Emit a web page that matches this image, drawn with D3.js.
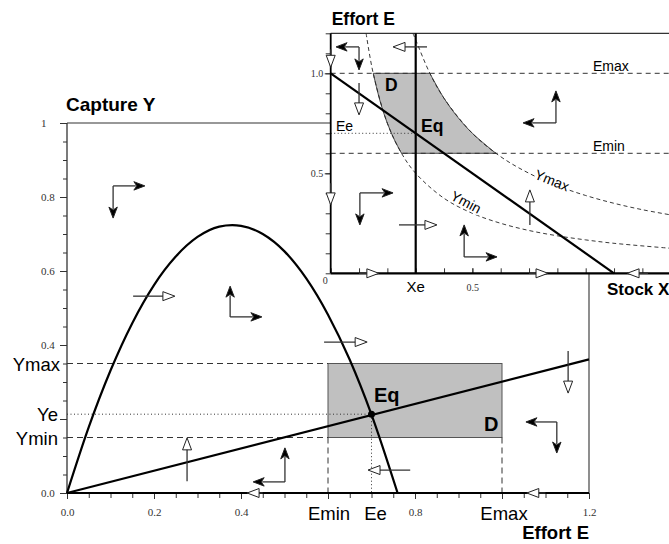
<!DOCTYPE html>
<html>
<head>
<meta charset="utf-8">
<script src="https://cdn.jsdelivr.net/npm/d3@7"></script>
<style>
  body { margin: 0; background: #fff; }
  svg text { font-family: "Liberation Sans", Arial, sans-serif; }
  .tick text { font-family: "Liberation Serif", "Times New Roman", serif; fill: #333; }
</style>
</head>
<body>
<div id="chart"></div>
<script>
// main diagram: capture Y against effort E
var mainYTicks = [0, 0.2, 0.4, 0.6, 0.8, 1];
var mainYTickLabels = ["0.0", "", "0.4", "0.6", "0.8", "1"];
var mainXTicks = [0, 0.2, 0.4, 0.6, 0.8, 1.0, 1.2];
var mainXTickLabels = ["0.0", "0.2", "0.4", "", "0.8", "", "1.2"];
// production curve (E, Y)
var captureCurve = [[0, 0], [0.05, 0.178], [0.1, 0.331], [0.15, 0.459], [0.2, 0.562],
  [0.25, 0.639], [0.3, 0.692], [0.35, 0.72], [0.38, 0.724], [0.4, 0.722], [0.45, 0.7],
  [0.5, 0.653], [0.55, 0.58], [0.6, 0.482], [0.65, 0.36], [0.7, 0.212], [0.76, 0]];
var captureLine = [[0, 0], [1.2, 0.361]];
var Emin = 0.6, Emax = 1.0, Ee = 0.7;
var Ymin = 0.15, Ymax = 0.35, Ye = 0.213;
// arrows: x1, y1, x2, y2, head ("f" filled, "o" open)
var mainArrows = [
  [0.106, 0.830, 0.179, 0.830, "f"], [0.106, 0.830, 0.106, 0.743, "f"],
  [0.152, 0.532, 0.248, 0.532, "o"],
  [0.375, 0.476, 0.375, 0.559, "f"], [0.375, 0.476, 0.448, 0.476, "f"],
  [0.591, 0.408, 0.690, 0.408, "o"],
  [1.152, 0.384, 1.152, 0.270, "o"],
  [1.126, 0.192, 1.055, 0.192, "f"], [1.126, 0.192, 1.126, 0.108, "f"],
  [0.789, 0.062, 0.692, 0.062, "o"],
  [1.10, 0, 1.057, 0, "o"],
  [0.45, 0, 0.414, 0, "o"],
  [0.276, 0.032, 0.276, 0.149, "o"],
  [0.501, 0.030, 0.428, 0.030, "f"], [0.501, 0.030, 0.501, 0.122, "f"]
];

// inset: effort E against stock X
var insetYTicks = [0.5, 1.0];
var insetYTickLabels = ["0.5", "1.0"];
var insetXTicks = [0.5];
var insetXTickLabels = ["0.5"];
var Xe = 0.3;
var effortLine = [[0, 1.0], [1.0, 0]];
var ymaxCurve = [[0.29, 1.2], [0.3, 1.167], [0.35, 1.0], [0.4, 0.875], [0.5, 0.7], [0.6, 0.583],
  [0.7, 0.5], [0.8, 0.4375], [0.9, 0.389], [1.0, 0.35], [1.1, 0.318], [1.2, 0.292]];
var yminCurve = [[0.125, 1.2], [0.15, 1.0], [0.2, 0.75], [0.25, 0.6], [0.3, 0.5], [0.4, 0.375],
  [0.5, 0.3], [0.6, 0.25], [0.7, 0.214], [0.8, 0.1875], [0.9, 0.167], [1.0, 0.15], [1.2, 0.125]];
var regionLeft = [[0.15, 1.0], [0.175, 0.857], [0.2, 0.75], [0.225, 0.667], [0.25, 0.6]];
var regionRight = [[0.583, 0.6], [0.5, 0.7], [0.45, 0.778], [0.4, 0.875], [0.35, 1.0]];
var insetArrows = [
  [0.100, 1.132, 0.019, 1.132, "f"], [0.100, 1.132, 0.100, 1.017, "f"],
  [0.340, 1.132, 0.220, 1.132, "o"],
  [0, 1.12, 0, 1.03, "o"],
  [0.1, 0.952, 0.1, 0.792, "o"],
  [0.795, 0.752, 0.795, 0.912, "f"], [0.795, 0.752, 0.679, 0.752, "f"],
  [0, 0.45, 0, 0.342, "o"],
  [0.103, 0.402, 0.22, 0.402, "f"], [0.103, 0.402, 0.103, 0.242, "f"],
  [0.241, 0.242, 0.375, 0.242, "o"],
  [0.471, 0.082, 0.471, 0.242, "f"], [0.471, 0.082, 0.587, 0.082, "f"],
  [0.703, 0.242, 0.703, 0.417, "o"],
  [0.1, 0, 0.170, 0, "o"],
  [0.7, 0, 0.767, 0, "o"],
  [1.12, 0, 1.046, 0, "o"]
];

var W = 669, H = 544;
var svg = d3.select("#chart").append("svg").attr("width", W).attr("height", H);

function drawArrows(g, sx, sy, list) {
  list.forEach(function (a) {
    var ax = sx(a[0]), ay = sy(a[1]), bx = sx(a[2]), by = sy(a[3]);
    var len = Math.hypot(bx - ax, by - ay), ux = (bx - ax) / len, uy = (by - ay) / len;
    var nx = -uy, ny = ux;
    var h = a[4] == "f" ? 11 : 12, w = a[4] == "f" ? 4.2 : 4.5;
    var cx = bx - ux * h, cy = by - uy * h;
    g.append("line").attr("x1", ax).attr("y1", ay).attr("x2", cx + ux * 2).attr("y2", cy + uy * 2)
      .attr("stroke", "#333").attr("stroke-width", 1.3);
    var pts = a[4] == "f"
      ? [[bx, by], [cx + nx * w, cy + ny * w], [cx + ux * 3, cy + uy * 3], [cx - nx * w, cy - ny * w]]
      : [[bx, by], [cx + nx * w, cy + ny * w], [cx - nx * w, cy - ny * w]];
    g.append("polygon").attr("points", pts.map(function (p) { return p.join(","); }).join(" "))
      .attr("fill", a[4] == "f" ? "#000" : "#fff").attr("stroke", "#222").attr("stroke-width", 1);
  });
}

// ---------- main chart ----------
var x = d3.scaleLinear().domain([0, 1.2]).range([67, 589]);
var y = d3.scaleLinear().domain([0, 1]).range([493, 123]);
var main = svg.append("g");

// frame
main.append("line").attr("x1", x(0)).attr("x2", x(1.2)).attr("y1", y(1)).attr("y2", y(1)).attr("stroke", "#333").attr("stroke-width", 1.2);
main.append("line").attr("x1", x(1.2)).attr("x2", x(1.2)).attr("y1", y(1)).attr("y2", y(0)).attr("stroke", "#444").attr("stroke-width", 1.2);

// y axis minor + major ticks
var gy = main.append("g").attr("transform", "translate(" + x(0) + ",0)")
  .call(d3.axisLeft(y).tickValues(d3.range(0, 1.001, 0.05)).tickSize(4).tickFormat(""));
gy.select(".domain").remove();
var gy2 = main.append("g").attr("transform", "translate(" + x(0) + ",0)")
  .call(d3.axisLeft(y).tickValues(mainYTicks).tickSize(7).tickPadding(3)
    .tickFormat(function (d, i) { return mainYTickLabels[i]; }));
gy2.select(".domain").remove();
gy2.selectAll("text").attr("text-anchor", "start").attr("x", 41 - x(0)).style("font-size", "11px");
main.selectAll(".tick line").attr("stroke", "#333");
main.append("line").attr("x1", x(0)).attr("x2", x(0)).attr("y1", y(1)).attr("y2", y(0)).attr("stroke", "#333").attr("stroke-width", 1.3);

// x axis
var gx = main.append("g").attr("transform", "translate(0," + y(0) + ")")
  .call(d3.axisBottom(x).tickValues(d3.range(0, 1.201, 0.05)).tickSize(5).tickFormat(""));
gx.select(".domain").remove();
var gx2 = main.append("g").attr("transform", "translate(0," + y(0) + ")")
  .call(d3.axisBottom(x).tickValues(mainXTicks).tickSize(6).tickPadding(9)
    .tickFormat(function (d, i) { return mainXTickLabels[i]; }));
gx2.select(".domain").remove();
gx2.selectAll("text").style("font-size", "11px");
main.selectAll(".tick line").attr("stroke", "#333");

// D rectangle
main.append("rect").attr("x", x(Emin)).attr("y", y(Ymax))
  .attr("width", x(Emax) - x(Emin)).attr("height", y(Ymin) - y(Ymax))
  .attr("fill", "#c0c0c0").attr("stroke", "#555").attr("stroke-width", 1);

// dashed guides
var dash = "6,4";
[[0, Ymax, Emin, Ymax], [0, Ymin, Emin, Ymin], [Emin, Ymin, Emin, 0], [Emax, Ymin, Emax, 0]].forEach(function (s) {
  main.append("line").attr("x1", x(s[0])).attr("y1", y(s[1])).attr("x2", x(s[2])).attr("y2", y(s[3]))
    .attr("stroke", "#333").attr("stroke-width", 1).attr("stroke-dasharray", dash);
});
[[0, Ye, Ee, Ye], [Ee, Ye, Ee, 0]].forEach(function (s) {
  main.append("line").attr("x1", x(s[0])).attr("y1", y(s[1])).attr("x2", x(s[2])).attr("y2", y(s[3]))
    .attr("stroke", "#333").attr("stroke-width", 1).attr("stroke-dasharray", "1,2.5");
});

main.append("line").attr("x1", x(0)).attr("x2", x(1.2)).attr("y1", y(0)).attr("y2", y(0)).attr("stroke", "#000").attr("stroke-width", 2.2);

var lineM = d3.line().x(function (d) { return x(d[0]); }).y(function (d) { return y(d[1]); });
main.append("path").attr("d", lineM.curve(d3.curveMonotoneX)(captureCurve))
  .attr("fill", "none").attr("stroke", "#000").attr("stroke-width", 2.2);
main.append("path").attr("d", d3.line().x(function (d) { return x(d[0]); }).y(function (d) { return y(d[1]); })(captureLine))
  .attr("fill", "none").attr("stroke", "#000").attr("stroke-width", 2.2);
main.append("circle").attr("cx", x(Ee)).attr("cy", y(Ye)).attr("r", 3.5).attr("fill", "#000");

drawArrows(main, x, y, mainArrows);

// labels
var lab = function (g, t, px, py, o) {
  o = o || {};
  return g.append("text").attr("x", px).attr("y", py).text(t)
    .attr("text-anchor", o.anchor || "start")
    .style("font-size", (o.size || 18) + "px")
    .style("font-weight", o.bold ? "bold" : "normal")
    .attr("dominant-baseline", o.base || "auto");
};
lab(main, "Capture Y", x(0) - 1, 111, { bold: true, size: 19 });
lab(main, "Effort E", x(1.2), 539, { bold: true, size: 18.5, anchor: "end" });
lab(main, "Ymax", 60, y(Ymax) + 7, { anchor: "end", size: 18.5 });
lab(main, "Ye", 58, y(Ye) + 7, { anchor: "end", size: 18.5 });
lab(main, "Ymin", 58, y(Ymin) + 7, { anchor: "end", size: 18.5 });
lab(main, "Emin", x(Emin) + 1, 520, { anchor: "middle", size: 18.5 });
lab(main, "Ee", x(Ee) + 4, 520, { anchor: "middle", size: 18.5 });
lab(main, "Emax", x(Emax) + 2, 520, { anchor: "middle", size: 18.5 });
lab(main, "Eq", 374, 402, { bold: true, size: 20 });
lab(main, "D", 484, 431, { bold: true, size: 20 });

// ---------- inset ----------
var xi = d3.scaleLinear().domain([0, 1.2]).range([330.7, 670.7]);
var yi = d3.scaleLinear().domain([0, 1.2]).range([273.3, 33.3]);
var ins = svg.append("g");
ins.append("rect").attr("x", xi(0)).attr("y", 0).attr("width", W - xi(0)).attr("height", yi(0)).attr("fill", "#fff");
ins.append("line").attr("x1", xi(0)).attr("x2", W).attr("y1", yi(1.2)).attr("y2", yi(1.2)).attr("stroke", "#333").attr("stroke-width", 1.2);

var lineI = function (c) {
  return d3.line().x(function (d) { return xi(d[0]); }).y(function (d) { return yi(d[1]); }).curve(c || d3.curveLinear);
};
// D region
var pl = lineI(d3.curveCatmullRom)(regionLeft), pr = lineI(d3.curveCatmullRom)(regionRight);
ins.append("path").attr("d", pl + "L" + pr.slice(1) + "Z")
  .attr("fill", "#c0c0c0").attr("stroke", "#222").attr("stroke-width", 0.8);

[Emax, Emin].forEach(function (e) {
  ins.append("line").attr("x1", xi(0)).attr("x2", W).attr("y1", yi(e)).attr("y2", yi(e))
    .attr("stroke", "#333").attr("stroke-width", 1).attr("stroke-dasharray", "5,4");
});
ins.append("line").attr("x1", xi(0)).attr("x2", xi(Xe)).attr("y1", yi(Ee)).attr("y2", yi(Ee))
  .attr("stroke", "#333").attr("stroke-width", 1).attr("stroke-dasharray", "1,2.5");
[ymaxCurve, yminCurve].forEach(function (c) {
  ins.append("path").attr("d", lineI(d3.curveCatmullRom)(c)).attr("fill", "none")
    .attr("stroke", "#222").attr("stroke-width", 0.9).attr("stroke-dasharray", "4,3");
});

// inset axes
var giy = ins.append("g").attr("transform", "translate(" + xi(0) + ",0)")
  .call(d3.axisLeft(yi).tickValues(d3.range(0, 1.201, 0.1)).tickSize(5).tickFormat(""));
giy.select(".domain").remove();
var giy2 = ins.append("g").attr("transform", "translate(" + xi(0) + ",0)")
  .call(d3.axisLeft(yi).tickValues(insetYTicks).tickSize(6).tickPadding(1.5)
    .tickFormat(function (d, i) { return insetYTickLabels[i]; }));
giy2.select(".domain").remove();
giy2.selectAll("text").style("font-size", "10px");
var gix = ins.append("g").attr("transform", "translate(0," + yi(0) + ")")
  .call(d3.axisBottom(xi).tickValues(d3.range(0, 1.201, 0.1)).tickSize(-5).tickFormat(""));
gix.select(".domain").remove();
var gix2 = ins.append("g").attr("transform", "translate(0," + yi(0) + ")")
  .call(d3.axisBottom(xi).tickValues(insetXTicks).tickSizeInner(-5).tickPadding(11)
    .tickFormat(function (d, i) { return insetXTickLabels[i]; }));
gix2.select(".domain").remove();
gix2.selectAll("text").style("font-size", "10px");
ins.selectAll(".tick line").attr("stroke", "#333");
ins.append("text").attr("x", xi(0) - 3).attr("y", 284).attr("text-anchor", "end").text("0")
  .style("font-family", "Liberation Serif, serif").style("font-size", "10px").attr("fill", "#333");

ins.append("line").attr("x1", xi(0)).attr("x2", xi(0)).attr("y1", yi(1.2)).attr("y2", yi(0)).attr("stroke", "#000").attr("stroke-width", 1.8);
ins.append("line").attr("x1", xi(0)).attr("x2", W).attr("y1", yi(0)).attr("y2", yi(0)).attr("stroke", "#000").attr("stroke-width", 2.2);
ins.append("line").attr("x1", xi(Xe)).attr("x2", xi(Xe)).attr("y1", yi(1.2)).attr("y2", yi(0)).attr("stroke", "#000").attr("stroke-width", 2.2);
ins.append("path").attr("d", lineI()(effortLine)).attr("stroke", "#000").attr("stroke-width", 2.2).attr("fill", "none");

drawArrows(ins, xi, yi, insetArrows);

lab(ins, "Effort E", xi(0) + 1, 25, { bold: true, size: 17.5 });
lab(ins, "Stock X", 607, 295, { bold: true, size: 17 });
lab(ins, "Emax", 593, 71, { size: 14 });
lab(ins, "Emin", 593, 151, { size: 14 });
lab(ins, "Ee", 336, 131, { size: 14 });
lab(ins, "Xe", xi(Xe), 292, { size: 15, anchor: "middle" });
lab(ins, "D", 385, 91, { bold: true, size: 17.5 });
lab(ins, "Eq", 421, 132, { bold: true, size: 17.5 });
ins.append("text").attr("transform", "translate(" + xi(0.781) + "," + yi(0.4655) + ") rotate(22)")
  .attr("text-anchor", "middle").attr("dominant-baseline", "central").text("Ymax")
  .style("font-size", "14px").attr("stroke", "#fff").attr("stroke-width", 3).attr("paint-order", "stroke").attr("fill", "#000");
ins.append("text").attr("transform", "translate(" + xi(0.4776) + "," + yi(0.3565) + ") rotate(28)")
  .attr("text-anchor", "middle").attr("dominant-baseline", "central").text("Ymin")
  .style("font-size", "14px").attr("stroke", "#fff").attr("stroke-width", 3).attr("paint-order", "stroke").attr("fill", "#000");
</script>
</body>
</html>
